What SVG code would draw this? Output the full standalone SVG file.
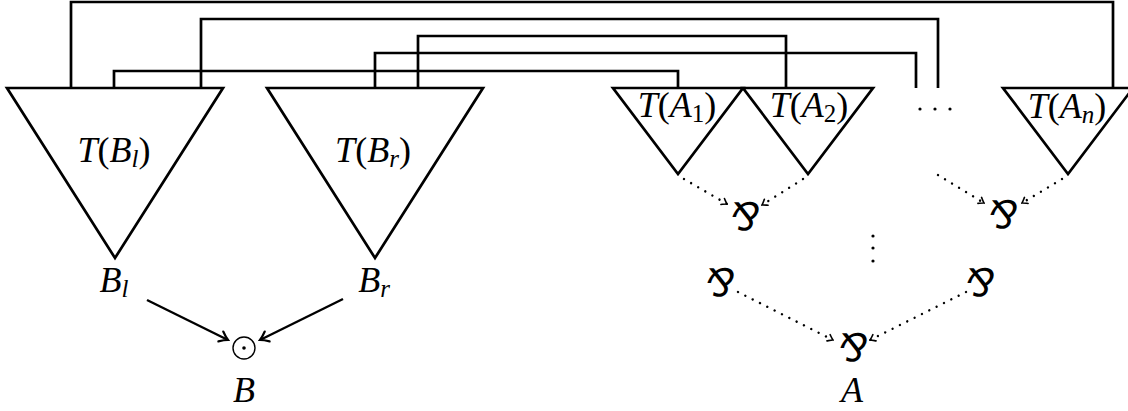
<svg xmlns="http://www.w3.org/2000/svg" width="1128" height="411" viewBox="0 0 1128 411">
<style>
.tri{fill:none;stroke:#000;stroke-width:2.7;stroke-linejoin:miter}
.wire{fill:none;stroke:#000;stroke-width:2.7}
.arr{fill:none;stroke:#000;stroke-width:2.4}
.dot{fill:none;stroke:#000;stroke-width:2.4;stroke-linecap:round;stroke-dasharray:0.01 8.2}
.m{font-family:'Liberation Serif',serif;font-size:36px;fill:#000}
.i{font-style:italic}
.par{font-family:'DejaVu Sans',sans-serif;font-size:38px;font-style:italic;fill:#000}
</style>
<defs>
<marker id="to" viewBox="-10 -7 12 14" refX="0" refY="0" markerWidth="12" markerHeight="14" markerUnits="userSpaceOnUse" orient="auto">
<path d="M -8 -5.5 C -5 -3 -2 -1 0 0 C -2 1 -5 3 -8 5.5" fill="none" stroke="#000" stroke-width="2.2" stroke-linecap="round"/>
</marker>
<marker id="tos" viewBox="-7 -5 8 10" refX="0" refY="0" markerWidth="8" markerHeight="10" markerUnits="userSpaceOnUse" orient="auto">
<path d="M -5 -3.5 C -3 -2 -1.3 -0.6 0 0 C -1.3 0.6 -3 2 -5 3.5" fill="none" stroke="#000" stroke-width="1.6" stroke-linecap="round"/>
</marker>
</defs>

<g id="connectors">
<path class="wire" d="M71 88 V2 H1113 V88"/>
<path class="wire" d="M201 88 V19 H938 V88"/>
<path class="wire" d="M418 88 V36 H786 V88"/>
<path class="wire" d="M375 88 V53 H916 V88"/>
<path class="wire" d="M114 88 V71 H678 V88"/>
<line class="arr" x1="147" y1="300" x2="228" y2="340" marker-end="url(#to)"/>
<line class="arr" x1="343" y1="299" x2="260" y2="340" marker-end="url(#to)"/>
<line class="dot" x1="684" y1="179" x2="727" y2="204" marker-end="url(#tos)"/>
<line class="dot" x1="803" y1="179" x2="762" y2="205" marker-end="url(#tos)"/>
<line class="dot" x1="938" y1="175" x2="984" y2="203" marker-end="url(#tos)"/>
<line class="dot" x1="1062" y1="179" x2="1022" y2="203" marker-end="url(#tos)"/>
<line class="dot" x1="738" y1="292" x2="833" y2="340" marker-end="url(#tos)"/>
<line class="dot" x1="966" y1="292" x2="870" y2="340" marker-end="url(#tos)"/>
</g>

<g id="TBl">
<polygon class="tri" points="7,88 223,88 115,258"/>
<text class="m" x="114" y="162" text-anchor="middle"><tspan class="i">T</tspan>(<tspan class="i">B</tspan><tspan class="i" font-size="25" dy="5">l</tspan><tspan dy="-5">)</tspan></text>
</g>
<g id="TBr">
<polygon class="tri" points="267,88 483,88 375,258"/>
<text class="m" x="373" y="162" text-anchor="middle"><tspan class="i">T</tspan>(<tspan class="i">B</tspan><tspan class="i" font-size="25" dy="5">r</tspan><tspan dy="-5">)</tspan></text>
</g>
<g id="TA1">
<polygon class="tri" points="613,88 743,88 678,174"/>
<text class="m" x="677" y="117" text-anchor="middle"><tspan class="i">T</tspan>(<tspan class="i">A</tspan><tspan font-size="25" dy="5">1</tspan><tspan dy="-5">)</tspan></text>
</g>
<g id="TA2">
<polygon class="tri" points="743,88 873,88 808,174"/>
<text class="m" x="809" y="117" text-anchor="middle"><tspan class="i">T</tspan>(<tspan class="i">A</tspan><tspan font-size="25" dy="5">2</tspan><tspan dy="-5">)</tspan></text>
</g>
<g id="hdots">
<circle cx="920" cy="109" r="1.6"/>
<circle cx="935" cy="109" r="1.6"/>
<circle cx="950" cy="109" r="1.6"/>
</g>
<g id="TAn">
<polygon class="tri" points="1003,88 1133,88 1068,174"/>
<text class="m" x="1067" y="118" text-anchor="middle"><tspan class="i">T</tspan>(<tspan class="i">A</tspan><tspan class="i" font-size="25" dy="5">n</tspan><tspan dy="-5">)</tspan></text>
</g>

<g id="Bl"><text class="m" x="114" y="292" text-anchor="middle"><tspan class="i">B</tspan><tspan class="i" font-size="25" dy="5">l</tspan></text></g>
<g id="Br"><text class="m" x="374" y="292" text-anchor="middle"><tspan class="i">B</tspan><tspan class="i" font-size="25" dy="5">r</tspan></text></g>
<g id="odot">
<circle cx="244" cy="348" r="11" fill="none" stroke="#000" stroke-width="1.4"/>
<circle cx="244" cy="348" r="1.8" fill="#000"/>
</g>
<g id="B"><text class="m i" x="244" y="402" text-anchor="middle">B</text></g>

<g id="par1"><text class="par" x="745" y="217" text-anchor="middle" dominant-baseline="central">⅋</text></g>
<g id="par2"><text class="par" x="1003" y="215" text-anchor="middle" dominant-baseline="central">⅋</text></g>
<g id="vdots">
<circle cx="873" cy="236" r="1.6"/>
<circle cx="873" cy="248" r="1.6"/>
<circle cx="873" cy="261" r="1.6"/>
</g>
<g id="par3"><text class="par" x="720" y="283" text-anchor="middle" dominant-baseline="central">⅋</text></g>
<g id="par4"><text class="par" x="980" y="283" text-anchor="middle" dominant-baseline="central">⅋</text></g>
<g id="par5"><text class="par" x="853" y="348" text-anchor="middle" dominant-baseline="central">⅋</text></g>
<g id="A"><text class="m i" x="852" y="402" text-anchor="middle">A</text></g>
</svg>
